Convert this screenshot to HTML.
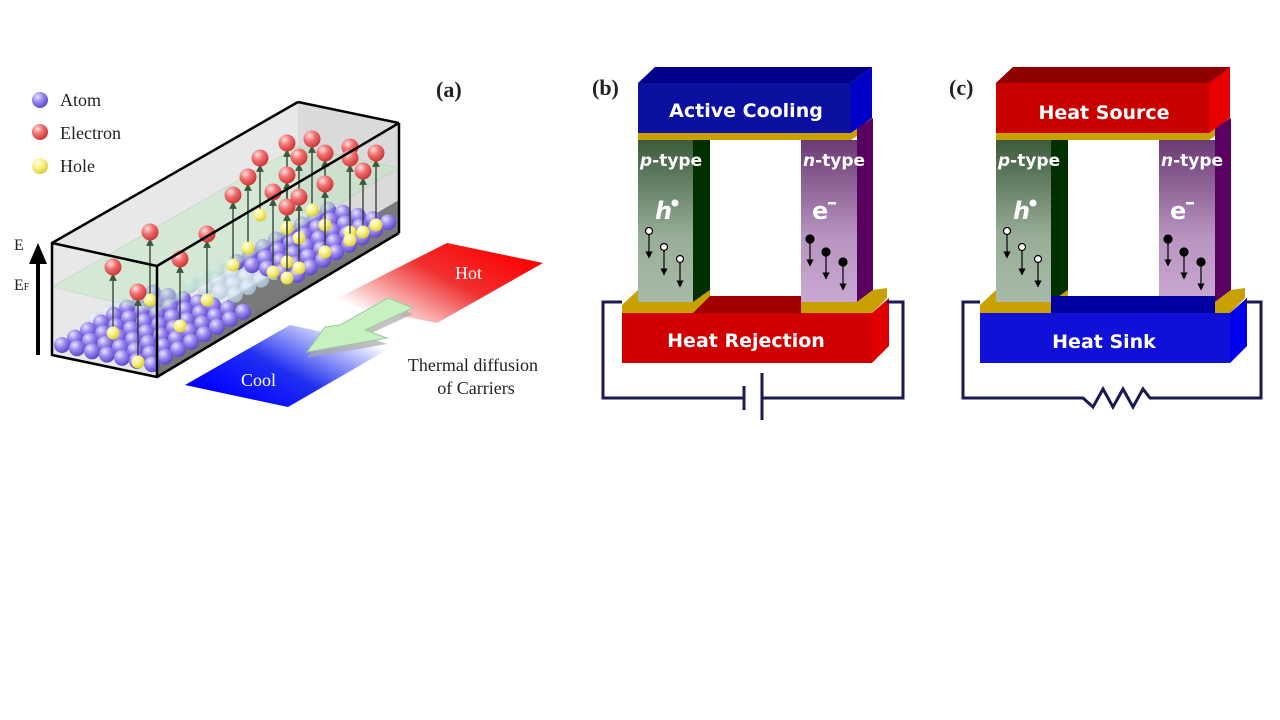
<!DOCTYPE html>
<html><head><meta charset="utf-8"><style>
html,body{margin:0;padding:0;background:#fff;width:1280px;height:720px;overflow:hidden}
svg{display:block}
.cg{font-family:"DejaVu Sans","Liberation Sans",sans-serif;font-weight:bold;fill:#fff}
.sr{font-family:"Liberation Serif",serif;fill:#222}
</style></head><body>
<svg id="s" width="1280" height="720" viewBox="0 0 1280 720" xmlns="http://www.w3.org/2000/svg">
<defs>
<radialGradient id="ga" cx="0.35" cy="0.3" r="0.75"><stop offset="0" stop-color="#e8e4ff"/><stop offset="0.45" stop-color="#9a88ee"/><stop offset="1" stop-color="#5a40c8"/></radialGradient>
<radialGradient id="gg" cx="0.35" cy="0.3" r="0.75"><stop offset="0" stop-color="#f0f6ff"/><stop offset="1" stop-color="#a8c4d8"/></radialGradient>
<radialGradient id="ge" cx="0.35" cy="0.3" r="0.75"><stop offset="0" stop-color="#ffe0e0"/><stop offset="0.45" stop-color="#f07070"/><stop offset="1" stop-color="#c83030"/></radialGradient>
<radialGradient id="gh" cx="0.35" cy="0.3" r="0.75"><stop offset="0" stop-color="#ffffe8"/><stop offset="0.5" stop-color="#f8f080"/><stop offset="1" stop-color="#d8c830"/></radialGradient>
<linearGradient id="hot" x1="0.95" y1="0.2" x2="0.1" y2="0.8"><stop offset="0" stop-color="#ff0000"/><stop offset="0.45" stop-color="#f03030"/><stop offset="1" stop-color="#fff"/></linearGradient>
<linearGradient id="cool" x1="0.1" y1="0.8" x2="0.9" y2="0.2"><stop offset="0" stop-color="#0000ff"/><stop offset="0.45" stop-color="#2030f0"/><stop offset="1" stop-color="#fff"/></linearGradient>
<linearGradient id="pl" x1="0" y1="0" x2="0" y2="1"><stop offset="0" stop-color="#3c5a3c"/><stop offset="0.6" stop-color="#98ae98"/><stop offset="1" stop-color="#a8baa8"/></linearGradient>
<linearGradient id="nl" x1="0" y1="0" x2="0" y2="1"><stop offset="0" stop-color="#6a3a72"/><stop offset="0.6" stop-color="#b894c0"/><stop offset="1" stop-color="#c8a8d0"/></linearGradient>
<marker id="ar" markerWidth="6" markerHeight="6" refX="3" refY="3" orient="auto"><path d="M0,0 L6,3 L0,6 z" fill="#000"/></marker>
<marker id="arg" markerWidth="6" markerHeight="6" refX="3" refY="3" orient="auto"><path d="M0,0 L6,3 L0,6 z" fill="#3a5a3a"/></marker>
</defs>

<!-- Panel a -->
<text x="436" y="97" class="sr" font-size="22" font-weight="bold">(a)</text>
<circle cx="40" cy="100" r="8" fill="url(#ga)"/><text x="60" y="106" class="sr" font-size="18">Atom</text>
<circle cx="40" cy="132" r="8" fill="url(#ge)"/><text x="60" y="139" class="sr" font-size="18">Electron</text>
<circle cx="40" cy="166" r="8" fill="url(#gh)"/><text x="60" y="172" class="sr" font-size="18">Hole</text>
<line x1="38" y1="355" x2="38" y2="262" stroke="#000" stroke-width="4"/>
<polygon points="29,264 47,264 38,243" fill="#000"/>
<text x="14" y="250" class="sr" font-size="16">E</text>
<text x="14" y="290" class="sr" font-size="16">E<tspan font-size="10">F</tspan></text>

<polygon points="52,243 298,102 399,123 399,233 157,377 52,355" fill="#e6e6e6" opacity="0.9"/>
<polygon points="298,102 399,123 399,233 298,212" fill="#dadada"/>
<polygon points="153,360 399,218 399,233 157,377" fill="#777"/>
<polygon points="150,345 300,258 399,200 399,230 170,360" fill="#7a7a7a"/>
<g id="atoms"></g>
<polygon points="52,287 298,146 399,168 157,312" fill="#bfe8bf" opacity="0.45" stroke="#9c9" stroke-width="0.8"/>
<g id="elec"></g>
<g fill="none" stroke="#000" stroke-width="2.5" stroke-linejoin="round">
<polygon points="52,243 157,266 157,377 52,355"/>
<line x1="52" y1="243" x2="298" y2="102"/>
<line x1="298" y1="102" x2="399" y2="123"/>
<line x1="157" y1="266" x2="399" y2="123"/>
<line x1="399" y1="123" x2="399" y2="233"/>
<line x1="157" y1="377" x2="399" y2="233"/>
</g>

<polygon points="447,243 543,263 437,323 330,302" fill="url(#hot)"/>
<text x="455" y="279" font-family="Liberation Serif,serif" font-size="18" fill="#fff">Hot</text>
<polygon points="185,385 288,407 392,347 290,325" fill="url(#cool)"/>
<text x="241" y="386" font-family="Liberation Serif,serif" font-size="18" fill="#fff">Cool</text>
<polygon points="307,358 325,333 340,331 388,304 413,314 365,336 387,344" fill="#aaa" opacity="0.7"/>
<polygon points="307,352 325,327 340,325 388,298 413,308 365,330 387,338" fill="#c8f0c0" stroke="#9c9" stroke-width="1"/>
<text x="473" y="371" class="sr" font-size="18" text-anchor="middle">Thermal diffusion</text>
<text x="476" y="394" class="sr" font-size="18" text-anchor="middle">of Carriers</text>

<!-- Panel b -->
<text x="592" y="95" class="sr" font-size="22" font-weight="bold">(b)</text>
<g id="mb">
<polygon points="638,83 655,67 872,67 851,83" fill="#00008a"/>
<rect x="638" y="83" width="213" height="50" fill="#0c10a0"/>
<polygon points="851,83 872,67 872,118 851,133" fill="#0000c8"/>
<polygon points="638,133 851,133 872,118 872,126 851,140 638,140" fill="#c8a000"/>
<rect x="693" y="296" width="164" height="17" fill="#a00000"/>
<rect x="638" y="140" width="55" height="162" fill="url(#pl)"/>
<polygon points="693,140 710,140 710,290 693,302" fill="#003000"/>
<rect x="801" y="140" width="56" height="162" fill="url(#nl)"/>
<polygon points="857,128 873,118 873,290 857,302" fill="#5a0060"/>
<polygon points="622,305 638,290 638,302 693,302 710,290 710,296 693,313 622,313" fill="#c8a000"/>
<polygon points="801,302 857,302 873,290 887,288 887,298 872,313 801,313" fill="#c8a000"/>
<rect x="622" y="313" width="250" height="50" fill="#d00000"/>
<polygon points="872,313 889,298 889,346 872,363" fill="#e00000"/>
<text x="640" y="166" class="cg" font-size="17"><tspan font-style="italic">p</tspan>-type</text>
<text x="803" y="166" class="cg" font-size="17"><tspan font-style="italic">n</tspan>-type</text>
<text x="655" y="219" class="cg" font-size="24" font-style="italic">h</text><circle cx="675" cy="203" r="3.5" fill="#fff"/>
<text x="812" y="219" class="cg" font-size="24">e</text><rect x="828" y="202" width="8" height="2.5" fill="#fff"/>
<g stroke="#000" stroke-width="1.2">
<line x1="649" y1="233" x2="649" y2="255" marker-end="url(#ar)"/><line x1="664" y1="249" x2="664" y2="272" marker-end="url(#ar)"/><line x1="680" y1="261" x2="680" y2="284" marker-end="url(#ar)"/>
<circle cx="649" cy="231" r="3.5" fill="#fff"/><circle cx="664" cy="247" r="3.5" fill="#fff"/><circle cx="680" cy="259" r="3.5" fill="#fff"/>
<line x1="810" y1="240" x2="810" y2="263" marker-end="url(#ar)"/><line x1="826" y1="253" x2="826" y2="276" marker-end="url(#ar)"/><line x1="843" y1="263" x2="843" y2="287" marker-end="url(#ar)"/>
<circle cx="810" cy="239" r="4" fill="#000"/><circle cx="826" cy="252" r="4" fill="#000"/><circle cx="843" cy="262" r="4" fill="#000"/>
</g>
</g>
<text x="746" y="117" class="cg" font-size="19" text-anchor="middle">Active Cooling</text>
<text x="746" y="347" class="cg" font-size="19" text-anchor="middle">Heat Rejection</text>
<g fill="none" stroke="#1a1a50" stroke-width="3">
<path d="M887,302 H903 V398 H762 M744,398 H603 V302 H622"/>
<line x1="744" y1="386" x2="744" y2="410"/><line x1="762" y1="373" x2="762" y2="420"/>
</g>

<!-- Panel c -->
<text x="949" y="95" class="sr" font-size="22" font-weight="bold">(c)</text>
<use href="#mb" transform="translate(358,0)"/>
<polygon points="996,83 1013,67 1230,67 1209,83" fill="#900000"/>
<rect x="996" y="83" width="213" height="50" fill="#c80000"/>
<polygon points="1209,83 1230,67 1230,118 1209,133" fill="#e80000"/>
<rect x="1051" y="296" width="164" height="17" fill="#0000a0"/>
<rect x="980" y="313" width="250" height="50" fill="#1010d8"/>
<polygon points="1230,313 1247,298 1247,346 1230,363" fill="#0000f0"/>
<text x="1104" y="119" class="cg" font-size="19" text-anchor="middle">Heat Source</text>
<text x="1104" y="348" class="cg" font-size="19" text-anchor="middle">Heat Sink</text>
<g fill="none" stroke="#1a1a50" stroke-width="3" stroke-linejoin="miter">
<path d="M1245,302 H1261 V398 H1150 L1143,389 L1133,407 L1123,389 L1113,407 L1103,389 L1093,407 L1083,398 H963 V302 H980"/>
</g>
</svg>
<script>
var NS="http://www.w3.org/2000/svg";
function c(g,x,y,r,f,op){var e=document.createElementNS(NS,"circle");e.setAttribute("cx",x);e.setAttribute("cy",y);e.setAttribute("r",r);e.setAttribute("fill",f);if(op)e.setAttribute("opacity",op);g.appendChild(e);}
var A=document.getElementById("atoms");
function grid(ox,oy,ni,nj,f,op,holes){
 for(var j=nj-1;j>=0;j--)for(var i=0;i<ni;i++){
  var x=ox+i*15+j*13,y=oy+i*3.2-j*7.5;
  var h=holes&&holes.indexOf(i+","+j)>=0;
  c(A,x,y,8,h?"url(#gh)":f,op);}
}
grid(190,285,4,4,"url(#gg)",0.8,[]);
grid(237,262,5,8,"url(#ga)",null,[]);
grid(95,320,2,3,"url(#gg)",0.7,[]);
grid(62,345,7,8,"url(#ga)",null,[]);
var E=document.getElementById("elec");
var el=[[113,267,333],[150,232,300],[138,292,362],[180,259,326],[207,234,300],[233,195,265],[248,177,248],[260,158,215],[273,192,272],[287,143,228],[287,175,262],[287,207,278],[299,157,238],[299,197,268],[312,139,210],[325,153,225],[325,184,252],[350,147,232],[350,158,240],[363,171,232],[376,153,225]];
el.forEach(function(p){
 var l=document.createElementNS(NS,"line");l.setAttribute("x1",p[0]);l.setAttribute("x2",p[0]);l.setAttribute("y1",p[2]);l.setAttribute("y2",p[1]+10);
 l.setAttribute("stroke","#2a3a2a");l.setAttribute("stroke-width","1.3");l.setAttribute("marker-end","url(#arg)");E.appendChild(l);
 c(E,p[0],p[2],6.5,"url(#gh)");c(E,p[0],p[1],8.5,"url(#ge)");
});
</script>
</body></html>
